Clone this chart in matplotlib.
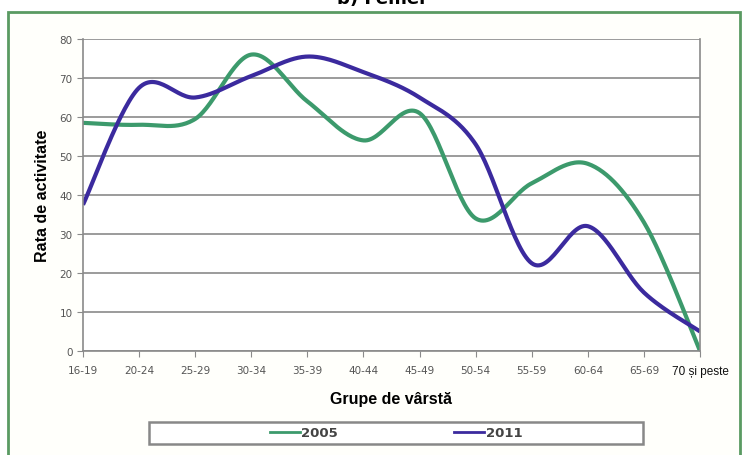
import numpy as np
import matplotlib
matplotlib.use("Agg")
import matplotlib.pyplot as plt
from matplotlib.patches import Rectangle
from matplotlib.lines import Line2D

groups = ['16-19', '20-24', '25-29', '30-34', '35-39', '40-44', '45-49',
          '50-54', '55-59', '60-64', '65-69', '70 și peste']
rate_2005 = [58.5, 58, 59.5, 76, 64, 54, 61, 34, 43, 48, 33, 0]
rate_2011 = [37.5, 67.5, 65, 70.5, 75.5, 71.5, 65, 53, 22.5, 32, 15, 5]

green = '#3c9a6c'
purple = '#3b2a9e'


def smooth(y, n=30):
    # Excel-style smoothed line (Catmull-Rom between the data points)
    y = np.asarray(y, dtype=float)
    x = np.arange(len(y), dtype=float)
    px = np.concatenate([[x[0]], x, [x[-1]]])
    py = np.concatenate([[y[0]], y, [y[-1]]])
    xs, ys = [], []
    t = np.linspace(0, 1, n, endpoint=False)
    for i in range(1, len(px) - 2):
        p0, p1, p2, p3 = px[i-1:i+3]
        q0, q1, q2, q3 = py[i-1:i+3]
        # bezier control points
        c1x, c1y = p1 + (p2 - p0) / 6, q1 + (q2 - q0) / 6
        c2x, c2y = p2 - (p3 - p1) / 6, q2 - (q3 - q1) / 6
        b0 = (1 - t) ** 3
        b1 = 3 * (1 - t) ** 2 * t
        b2 = 3 * (1 - t) * t ** 2
        b3 = t ** 3
        xs.append(b0 * p1 + b1 * c1x + b2 * c2x + b3 * p2)
        ys.append(b0 * q1 + b1 * c1y + b2 * c2y + b3 * q2)
    xs.append([x[-1]])
    ys.append([y[-1]])
    return np.concatenate(xs), np.concatenate(ys)


W, H = 748, 456
fig = plt.figure(figsize=(W / 100, H / 100), dpi=100)
fig.patch.set_facecolor('white')

# green frame around the chart
fig.patches.append(Rectangle((8 / W, -0.02), 732 / W, 1 - 13 / H + 0.02,
                             transform=fig.transFigure, fill=True, zorder=-5,
                             facecolor='#fffffb', edgecolor='#5a9a62', lw=2))

fig.text(0.51, 1.003, 'b) Femei', ha='center', va='center',
         fontsize=13, fontweight='bold')

ax = fig.add_axes([83 / W, 1 - 352 / H, 617 / W, 312 / H])
ax.set_facecolor('white')

sx, sy = smooth(rate_2005)
ax.plot(sx, sy, color=green, lw=3, label='2005', solid_capstyle='butt')
sx, sy = smooth(rate_2011)
ax.plot(sx, sy, color=purple, lw=3, label='2011', solid_capstyle='butt')

ax.set_xlim(0, len(groups) - 1)
ax.set_ylim(0, 80)
ax.set_yticks(range(0, 81, 10))
ax.set_xticks(range(len(groups)))
ax.set_xticklabels(groups)
ax.grid(axis='y', color='#8a8a8a', lw=1.2)
ax.set_axisbelow(True)
for s in ['left', 'bottom', 'right']:
    ax.spines[s].set_color('#8a8a8a')
    ax.spines[s].set_linewidth(1.2)
ax.spines['top'].set_visible(False)
ax.tick_params(axis='both', direction='out', length=4, color='#8a8a8a',
               labelsize=7.5, labelcolor='#555555')
ax.tick_params(axis='x', pad=6)
last = ax.get_xticklabels()[-1]
last.set_color('#111111')
last.set_fontsize(8.5)
last.set_family('Liberation Sans')

ax.set_ylabel('Rata de activitate', fontsize=11.5, fontweight='bold',
              family='Liberation Sans', labelpad=7)
ax.set_xlabel('Grupe de vârstă', fontsize=11.5, fontweight='bold',
              family='Liberation Sans', labelpad=10)

# legend box
fig.patches.append(Rectangle((149 / W, 1 - 445 / H), 494 / W, 22 / H,
                             transform=fig.transFigure, fill=True, zorder=-1,
                             facecolor='white', edgecolor='#888888', lw=1.8))
handles = [Line2D([], [], color=green, lw=2), Line2D([], [], color=purple, lw=2)]
leg = fig.legend(handles, ['2005', '2011'], loc='center',
                 bbox_to_anchor=(396 / W, 1 - 434 / H), ncol=2,
                 frameon=False, fontsize=9.5, handlelength=2.3,
                 handletextpad=0.1, columnspacing=8.8, borderpad=0.2)
for t in leg.get_texts():
    t.set_color('#444444')
    t.set_fontweight('bold')

fig.savefig('out.png', dpi=100)
